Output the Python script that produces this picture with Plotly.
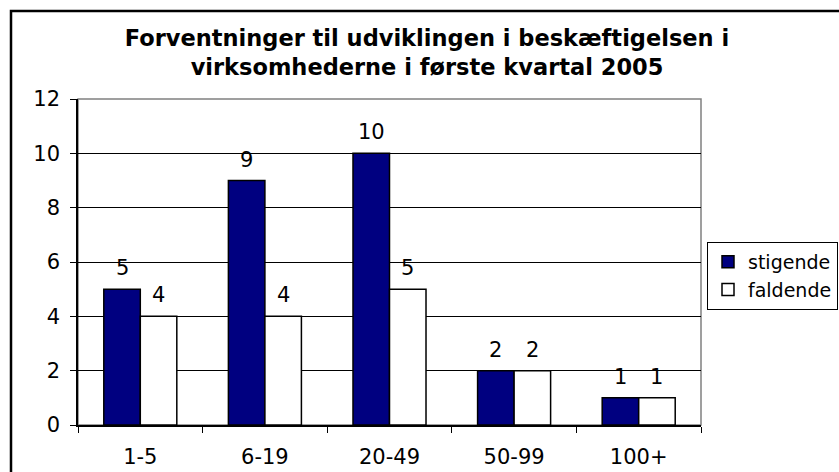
import plotly.graph_objects as go

categories = ["1-5", "6-19", "20-49", "50-99", "100+"]
stigende = [5, 9, 10, 2, 1]
faldende = [4, 4, 5, 2, 1]
y_ticks = [0, 2, 4, 6, 8, 10, 12]
title_text = "Forventninger til udviklingen i beskæftigelsen i<br>virksomhederne i første kvartal 2005"

FONT = "DejaVu Sans"
FS = 21
W, H = 839, 472
L, R, T, B = 78, 701, 99, 425
BARGAP = 0.414

series = [
    ("stigende", stigende, "#000080"),
    ("faldende", faldende, "white"),
]

fig = go.Figure()
for name, vals, color in series:
    fig.add_trace(go.Bar(
        name=name, x=categories, y=vals,
        marker=dict(color=color, line=dict(color="black", width=1.5)),
        hoverinfo="skip",
    ))

pw = R - L
ph = B - T
cat_px = pw / len(categories)
bar_px = cat_px * (1 - BARGAP) / len(series)

# value labels above bars
annotations = []
for i, (name, vals, color) in enumerate(series):
    shift = (i - (len(series) - 1) / 2) * bar_px
    for c, v in zip(categories, vals):
        annotations.append(dict(
            x=c, y=v, xref="x", yref="y", text=str(v), showarrow=False,
            xshift=shift, yanchor="bottom", yshift=7,
            font=dict(family=FONT, size=FS, color="black"),
        ))

def px(x):
    return (x - L) / pw
def py(y):
    return (B - y) / ph

shapes = [
    dict(type="rect", xref="paper", yref="paper", x0=0, x1=1, y0=0, y1=1,
         line=dict(color="#808080", width=1.5), layer="below"),
    dict(type="rect", xref="paper", yref="paper", x0=px(11), x1=px(850), y0=py(480), y1=py(11),
         line=dict(color="black", width=2.5)),
]

fig.update_layout(
    width=W, height=H,
    margin=dict(l=L, r=W - R, t=T, b=H - B, autoexpand=False),
    paper_bgcolor="white", plot_bgcolor="white",
    font=dict(family=FONT, size=FS, color="black"),
    barmode="group", bargap=BARGAP, bargroupgap=0,
    title=dict(text="<b>" + title_text + "</b>", x=427 / W, xanchor="center",
               y=1 - 46 / H, yanchor="top", yref="container",
               font=dict(family=FONT, size=22.5, color="black")),
    showlegend=True,
    legend=dict(xref="container", yref="container",
                x=707 / W, y=1 - 242 / H, xanchor="left", yanchor="top",
                bordercolor="black", borderwidth=1, bgcolor="white",
                font=dict(family=FONT, size=19, color="black"),
                itemwidth=30, tracegroupgap=0),
    shapes=shapes,
    annotations=annotations,
    xaxis=dict(showline=True, linecolor="black", linewidth=1.5, automargin=False,
               ticks="outside", tickson="boundaries", ticklen=6, tickcolor="black",
               ticklabelstandoff=12,
               tickfont=dict(family=FONT, size=FS), showgrid=False),
    yaxis=dict(range=[0, 12], tickvals=y_ticks, showline=True, linecolor="black", linewidth=1.5,
               automargin=False, ticklabelstandoff=6,
               ticks="outside", ticklen=6, tickcolor="black",
               showgrid=True, gridcolor="black", gridwidth=1,
               tickfont=dict(family=FONT, size=FS), zeroline=False),
)

fig.write_html("out.html", config={"displayModeBar": False},
               post_script="document.body.style.margin='0px';")
